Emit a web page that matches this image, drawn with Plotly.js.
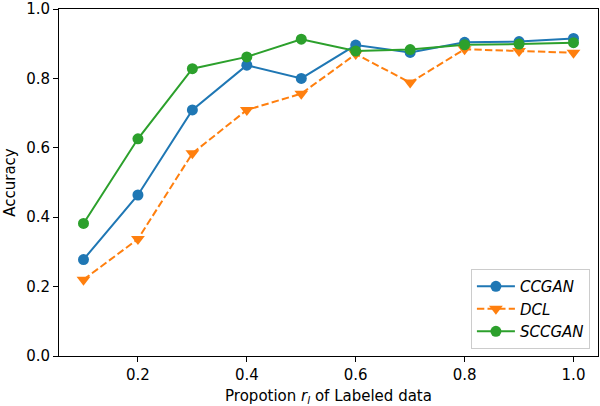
<!DOCTYPE html>
<html>
<head>
<meta charset="utf-8">
<script src="https://cdn.plot.ly/plotly-3.0.1.min.js"></script>
<style>html,body{margin:0;padding:0;background:#fff;}#chart{width:600px;height:406px;}</style>
</head>
<body>
<div id="chart"></div>
<script>
const proportions = [0.1, 0.2, 0.3, 0.4, 0.5, 0.6, 0.7, 0.8, 0.9, 1.0];
const ccgan = [0.278, 0.464, 0.709, 0.838, 0.800, 0.896, 0.875, 0.904, 0.906, 0.915];
const dcl = [0.220, 0.337, 0.584, 0.709, 0.756, 0.870, 0.788, 0.884, 0.879, 0.874];
const sccgan = [0.382, 0.626, 0.828, 0.862, 0.913, 0.879, 0.883, 0.897, 0.899, 0.903];
const seriesNames = ["CCGAN", "DCL", "SCCGAN"];
const yTicks = [0.0, 0.2, 0.4, 0.6, 0.8, 1.0];
const xTicks = [0.2, 0.4, 0.6, 0.8, 1.0];

const font = "DejaVu Sans, sans-serif";
const traces = [
  {x: proportions, y: ccgan, name: "<i>" + seriesNames[0] + "</i>", mode: "lines+markers",
   line: {color: "#1f77b4", width: 2}, marker: {symbol: "circle", size: 11, color: "#1f77b4"}},
  {x: proportions, y: dcl, name: "<i>" + seriesNames[1] + "</i>", mode: "lines+markers",
   line: {color: "#ff7f0e", width: 2, dash: "7.4px,3.2px"}, marker: {symbol: "triangle-down", size: 12, color: "#ff7f0e"}},
  {x: proportions, y: sccgan, name: "<i>" + seriesNames[2] + "</i>", mode: "lines+markers",
   line: {color: "#2ca02c", width: 2}, marker: {symbol: "circle", size: 11, color: "#2ca02c"}}
];

const layout = {
  width: 600, height: 406,
  margin: {l: 59, r: 2, t: 9, b: 50},
  paper_bgcolor: "#fff", plot_bgcolor: "#fff",
  font: {family: font, size: 15, color: "#000"},
  showlegend: true,
  legend: {x: 0.985, y: 0.02, xanchor: "right", yanchor: "bottom",
    bgcolor: "rgba(255,255,255,0.8)", bordercolor: "#cccccc", borderwidth: 1,
    itemwidth: 38,
    font: {family: font, size: 15, color: "#000"}, tracegroupgap: 0},
  xaxis: {range: [0.055, 1.045], tickvals: xTicks, ticktext: xTicks.map(v => v.toFixed(1)),
    showgrid: false, zeroline: false, showline: true, mirror: true, linecolor: "#000", linewidth: 1,
    ticks: "outside", ticklen: 5, tickcolor: "#000", tickfont: {size: 15},
    title: {text: "Propotion <i>r</i><sub><i>l</i></sub> of Labeled data", font: {family: font, size: 15}, standoff: 8}},
  yaxis: {range: [0, 1], tickvals: yTicks, ticktext: yTicks.map(v => v.toFixed(1)),
    ticklabeloverflow: "allow",
    showgrid: false, zeroline: false, showline: true, mirror: true, linecolor: "#000", linewidth: 1,
    ticks: "outside", ticklen: 5, tickcolor: "#000", tickfont: {size: 15},
    title: {text: "Accuracy", font: {family: font, size: 15}, standoff: 6}}
};

Plotly.newPlot("chart", traces, layout, {displayModeBar: false, staticPlot: true});
</script>
</body>
</html>
